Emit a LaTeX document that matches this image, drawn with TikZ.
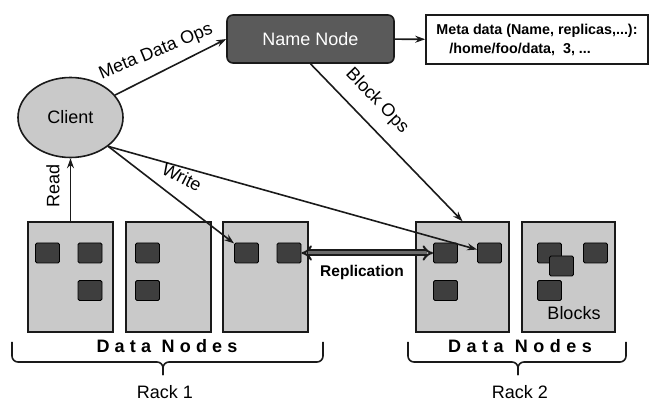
\documentclass[tikz,border=0pt]{standalone}
\usepackage{fontspec}
\setmainfont{Liberation Sans}
\usetikzlibrary{arrows.meta,shapes.geometric}
\definecolor{lightg}{HTML}{C9C9C9}
\definecolor{darkg}{HTML}{5A5A5A}
\definecolor{blockg}{HTML}{3E3E3E}
\definecolor{linec}{HTML}{1A1A1A}
\definecolor{midg}{HTML}{6A6A6A}
\begin{document}
\begin{tikzpicture}[x=1pt,y=-1pt,
  every node/.style={font=\fontsize{18}{22}\selectfont},
  lbl/.style={inner sep=0pt},
  dnode/.style={draw=linec, line width=1.6pt, fill=lightg, minimum height=110pt, inner sep=0pt},
  blk/.style={draw=black, line width=0.9pt, fill=blockg, rounded corners=1.5pt, minimum width=24pt, minimum height=20pt, inner sep=0pt},
  arr/.style={draw=linec, line width=1.6pt, -{Stealth[length=10pt,width=7pt]}},
  bracestyle/.style={draw=linec, line width=1.6pt, rounded corners=6pt},
  dn/.style={inner sep=0pt, font=\fontsize{18}{20}\selectfont\bfseries}
]
\path[use as bounding box] (0,0) rectangle (649,401);

% top nodes
\node[draw=linec, line width=1.6pt, fill=darkg, rounded corners=6pt, minimum width=167pt, minimum height=48pt, text=white] (nn) at (310.5,39) {Name Node};
\node[draw=linec, line width=1.6pt, fill=white, minimum width=222pt, minimum height=49pt, align=left, inner sep=0pt, font=\fontsize{14.3}{19}\selectfont\bfseries] (meta) at (537,39.5)
  {Meta data (Name, replicas,...):\\\hspace*{13pt}/home/foo/data,\ \ 3, ...};
\node[ellipse, draw=linec, line width=1.6pt, fill=lightg, minimum width=105pt, minimum height=80pt, inner sep=0pt] (client) at (70.5,117.5) {Client};

% data nodes rack 1
\node[dnode, minimum width=85pt] (r1n1) at (70.5,277) {};
\node[dnode, minimum width=85pt] (r1n2) at (168.5,277) {};
\node[dnode, minimum width=85pt] (r1n3) at (265.5,277) {};
% rack 2
\node[dnode, minimum width=93pt] (r2n1) at (462.5,277) {};
\node[dnode, minimum width=93pt] (r2n2) at (568.5,277) {};

% blocks
\node[blk] (r1n1b1) at (47.5,253) {};
\node[blk] (r1n1b2) at (90,253) {};
\node[blk] (r1n1b3) at (90,290.5) {};
\node[blk] (r1n2b1) at (147.5,253) {};
\node[blk] (r1n2b2) at (147.5,290.5) {};
\node[blk] (r1n3b1) at (246.5,253) {};
\node[blk] (r1n3b2) at (289,253) {};
\node[blk] (r2n1b1) at (445.5,253) {};
\node[blk] (r2n1b2) at (489.5,253) {};
\node[blk] (r2n1b3) at (445.5,290.5) {};
\node[blk] (r2n2b1) at (549.5,253) {};
\node[blk] (r2n2b2) at (561.5,266) {};
\node[blk] (r2n2b3) at (595.5,253) {};
\node[blk] (r2n2b4) at (549.5,290.5) {};
\node[lbl] (blocks) at (574,313) {Blocks};

% connectors
\draw[arr] (client) -- (nn.west);
\draw[arr] (nn) -- (meta);
\draw[arr] (nn.south) -- (r2n1.north);
\draw[arr] (r1n1.north) -- (client.south);
\coordinate (wstart) at (client.south east);
\draw[arr] (wstart) -- (r1n3b1);
\draw[arr] (wstart) -- (r2n1b2);
\draw[draw=linec, line width=2pt, double=midg, double distance=3pt, {Implies}-{Implies}] (r1n3b2.east) -- (r2n1b1.west);

% labels
\node[lbl, rotate=22.5] (lmeta) at (156,52) {Meta Data Ops};
\node[lbl, rotate=-46] (lblock) at (377,101) {Block Ops};
\node[lbl, rotate=90] (lread) at (53,186) {Read};
\node[lbl, rotate=-27] (lwrite) at (182,177) {Write};
\node[lbl, font=\fontsize{15.5}{18}\selectfont\bfseries] (lrep) at (362,272) {Replication};

% Data Nodes labels
\node[dn] (dn1) at (167,346) {\makebox[141pt][s]{D\hfil a\hfil t\hfil a\hfil\hfil N\hfil o\hfil d\hfil e\hfil s}};
\node[dn] (dn2) at (520,346) {\makebox[144pt][s]{D\hfil a\hfil t\hfil a\hfil\hfil N\hfil o\hfil d\hfil e\hfil s}};

% braces
\draw[bracestyle] (12,342) -- (12,362) -- (163,362) -- (163,375);
\draw[bracestyle] (163,375) -- (163,362) -- (323,362) -- (323,342);
\draw[bracestyle] (408,342) -- (408,362) -- (518,362) -- (518,375);
\draw[bracestyle] (518,375) -- (518,362) -- (626,362) -- (626,342);
\node[lbl] (rack1) at (165,392) {Rack 1};
\node[lbl] (rack2) at (520,392) {Rack 2};
\end{tikzpicture}
\end{document}
